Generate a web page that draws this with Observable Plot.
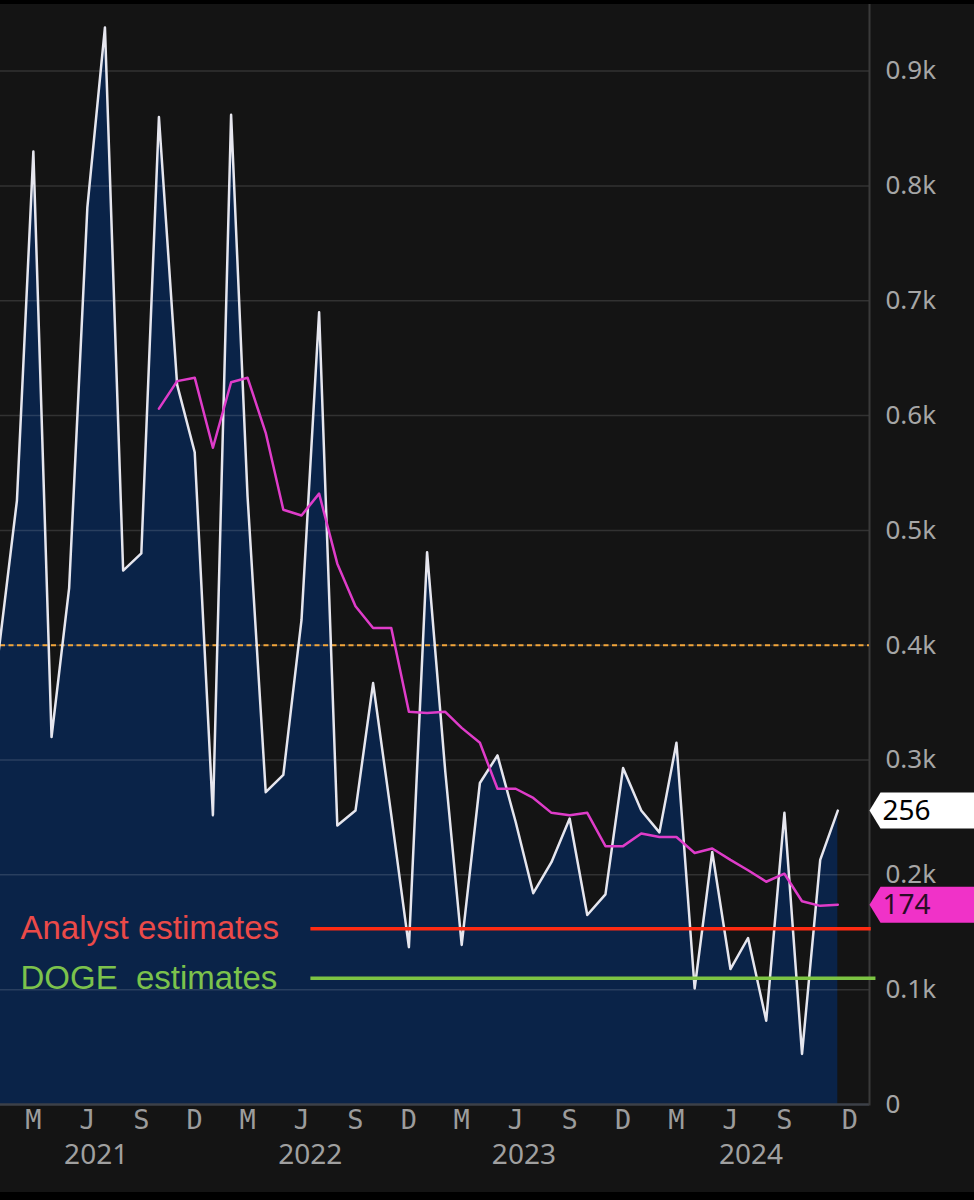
<!DOCTYPE html>
<html>
<head>
<meta charset="utf-8">
<script src="https://cdn.jsdelivr.net/npm/d3@7"></script>
<script src="https://cdn.jsdelivr.net/npm/@observablehq/plot@0.6"></script>
<style>
  html, body { margin: 0; padding: 0; background: #000; overflow: hidden; }
  #chart { padding-top: 4px; }
  #chart svg { display: block; }
  #chart svg text { white-space: pre; }
</style>
</head>
<body>
<div id="chart"></div>
<script>
// ---- data ----
const firstMonth = "2021-01-01";
const monthlyValues = [
  395, 526, 830, 320, 450, 781, 938, 465, 480, 860, 627, 568,   // 2021
  252, 862, 530, 272, 287, 422, 690, 243, 256, 367, 252, 137,   // 2022
  481, 290, 139, 280, 304, 246, 184, 211, 249, 165, 183, 293,   // 2023
  256, 237, 315, 101, 220, 118, 145, 73, 254, 44, 213, 256      // 2024
];
const averageFirstMonth = "2021-10-01";
const movingAverage = [
  606, 630, 633,                                                // 2021 Oct-Dec
  572, 629, 633, 585, 518, 513, 532, 471, 434, 415, 415, 342,   // 2022
  341, 342, 328, 315, 275, 275, 267, 254, 252, 254, 225, 225,   // 2023
  236, 233, 233, 219, 223, 213, 204, 194, 201, 177, 173, 174    // 2024
];
const referenceLevel = 400;
const estimateLabels = ["Analyst estimates", "DOGE  estimates"];
const estimateValues = [153, 110];
const estimateTextColors = ["#ec4a48", "#7cc24c"];
const estimateLineColors = ["#ff2b12", "#7cc443"];
const estimateFrom = "2022-06-17";
const estimateTo = ["2025-01-27", "2025-02-04"];
const yTicks = [0, 100, 200, 300, 400, 500, 600, 700, 800, 900];
const tickYears = [2021, 2022, 2023, 2024];
const tickMonthNumbers = [3, 6, 9, 12];
const tickMonthLetters = ["M", "J", "S", "D"];
const yearLabels = ["2021", "2022", "2023", "2024"];
const yearLabelDates = ["2021-06-16", "2022-06-16", "2023-06-15", "2024-07-06"];
const xDomain = ["2021-01-04", "2025-01-24"];
const yDomain = [0, 958];

// ---- derived tables ----
const series = monthlyValues.map((v, i) => ({date: d3.utcMonth.offset(new Date(firstMonth), i), value: v}));
const average = movingAverage.map((v, i) => ({date: d3.utcMonth.offset(new Date(averageFirstMonth), i), value: v}));
const monthTicks = [];
tickYears.forEach(y => tickMonthNumbers.forEach((m, j) => monthTicks.push({date: new Date(Date.UTC(y, m - 1, 1)), label: tickMonthLetters[j]})));
const estimates = estimateLabels.map((l, i) => ({label: l, value: estimateValues[i], text: estimateTextColors[i], line: estimateLineColors[i], x1: new Date(estimateFrom), x2: new Date(estimateTo[i])}));
const years = yearLabels.map((l, i) => ({label: l, date: new Date(yearLabelDates[i])}));
const lastValue = monthlyValues[monthlyValues.length - 1];
const lastAverage = movingAverage[movingAverage.length - 1];
const fmt = d => d === 0 ? "0" : (d / 1000).toFixed(1) + "k";

const tagShape = {
  draw(context) {
    context.moveTo(0, 0);
    context.lineTo(11, -18);
    context.lineTo(130, -18);
    context.lineTo(130, 18);
    context.lineTo(11, 18);
    context.closePath();
  }
};

const chart = Plot.plot({
  width: 974,
  height: 1188,
  marginTop: 0,
  marginLeft: 0,
  marginRight: 105,
  marginBottom: 88,
  style: {background: "#141414", color: "#a8a8a8"},
  x: {type: "utc", domain: xDomain.map(d => new Date(d)), axis: null},
  y: {domain: yDomain, axis: null},
  marks: [
    Plot.areaY(series, {x: "date", y: "value", fill: "#0a2348", clip: true}),
    Plot.ruleY(yTicks.filter(d => d > 0), {stroke: "#ffffff", strokeOpacity: 0.13, strokeWidth: 1.5}),
    Plot.ruleY([0], {stroke: "#3d4148", strokeWidth: 2.5}),
    Plot.frame({anchor: "right", stroke: "#3a3a3a", strokeWidth: 2}),
    Plot.ruleY([referenceLevel], {stroke: "#f2a53a", strokeWidth: 2, strokeDasharray: "5,3.5"}),
    Plot.lineY(series, {x: "date", y: "value", stroke: "#e6e6ee", strokeWidth: 2.5, clip: true}),
    Plot.ruleY(estimates, {y: "value", x1: "x1", x2: "x2", stroke: "line", strokeWidth: 3.5}),
    Plot.lineY(average, {x: "date", y: "value", stroke: "#df3cc9", strokeWidth: 2.5}),
    Plot.text(estimates, {y: "value", text: "label", fill: "text", frameAnchor: "left", dx: 20, textAnchor: "start",
      fontSize: 33, fontFamily: "Liberation Sans, Arial, sans-serif"}),
    // y tick labels (right)
    Plot.text(yTicks, {y: d => d, text: fmt, frameAnchor: "right", dx: 16, textAnchor: "start",
      fill: "#a6a6a6", fontSize: 26, fontFamily: "Noto Sans"}),
    // month tick labels
    Plot.text(monthTicks.slice(0, -1), {x: "date", text: "label", frameAnchor: "bottom", dy: 24,
      fill: "#9c9c9c", fontSize: 27, fontFamily: "DejaVu Sans Mono"}),
    Plot.text(monthTicks.slice(-1), {x: "date", text: "label", frameAnchor: "bottom", dy: 24, dx: 12,
      fill: "#9c9c9c", fontSize: 27, fontFamily: "DejaVu Sans Mono"}),
    // year labels
    Plot.text(years, {x: "date", text: "label", frameAnchor: "bottom", dy: 59,
      fill: "#a0a0a0", fontSize: 28, fontFamily: "Noto Sans"}),
    // last value tags
    Plot.dot([lastValue], {y: d => d, frameAnchor: "right", symbol: tagShape, r: 5, fill: "#ffffff", stroke: null}),
    Plot.text([lastValue], {y: d => d, text: d => String(d), frameAnchor: "right", dx: 13, textAnchor: "start",
      fill: "#000000", fontSize: 28, fontFamily: "Noto Sans"}),
    Plot.dot([lastAverage], {y: d => d, frameAnchor: "right", symbol: tagShape, r: 5, fill: "#f032c8", stroke: null}),
    Plot.text([lastAverage], {y: d => d, text: d => String(d), frameAnchor: "right", dx: 13, textAnchor: "start",
      fill: "#2a0c26", fontSize: 28, fontFamily: "Noto Sans"})
  ]
});
document.getElementById("chart").appendChild(chart);
</script>
</body>
</html>
